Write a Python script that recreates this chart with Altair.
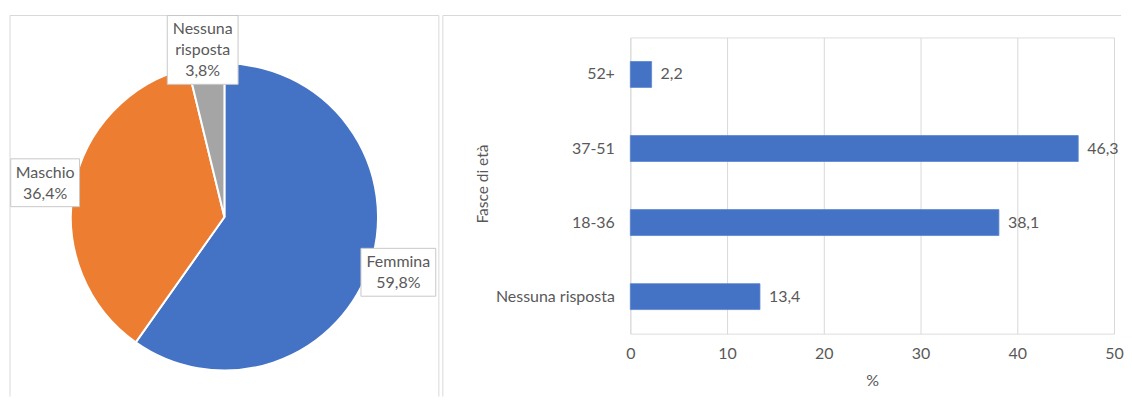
import altair as alt
import pandas as pd

# ---------------- data ----------------
gender = ["Femmina", "Maschio", "Nessuna risposta"]
gender_label_lines = ["Femmina", "Maschio", "Nessuna\nrisposta"]
gender_pct = [59.8, 36.4, 3.8]
gender_colors = ["#4472C4", "#ED7D31", "#A5A5A5"]

age_groups = ["52+", "37-51", "18-36", "Nessuna risposta"]
age_pct = [2.2, 46.3, 38.1, 13.4]
x_ticks = [0, 10, 20, 30, 40, 50]

# ---------------- layout / style ----------------
W, H = 485, 297              # bar plot area (abs x 631..1116, y 36..333)
PCX, PCY = -407, 180         # pie centre relative to bar plot origin
PIE_R = 154
LABEL_R = 183
PANEL_TOP = -22
BOTTOM = 360
BOX_SIZE = {"Femmina": (75, 48), "Maschio": (69, 48), "Nessuna risposta": (71, 69)}
TXT = "#595959"
GRID = "#d9d9d9"
FONT = "Lato"
FS = 16


def fmt(v):
    return f"{v:.1f}".replace(".", ",")


pie_df = pd.DataFrame({
    "cat": gender,
    "pct": gender_pct,
    "idx": list(range(len(gender))),
    "txt": [f"{l}\n{fmt(v)}%" for l, v in zip(gender_label_lines, gender_pct)],
    "bw": [BOX_SIZE[g][0] for g in gender],
    "bh": [BOX_SIZE[g][1] for g in gender],
})

bar_df = pd.DataFrame({"group": age_groups, "pct": age_pct})
one = pd.DataFrame({"a": [0]})

# ---------------- panel borders ----------------
def rule(x1, y1, x2, y2):
    return alt.Chart(one).mark_rule(color=GRID, strokeWidth=1).encode(
        x=alt.value(x1), y=alt.value(y1), x2=alt.value(x2), y2=alt.value(y2)
    )

borders = [
    rule(-622, PANEL_TOP, -622, BOTTOM),
    rule(-622, PANEL_TOP, -192, PANEL_TOP),
    rule(-192, PANEL_TOP, -192, BOTTOM),
    rule(-188, PANEL_TOP, -188, BOTTOM),
    rule(-188, PANEL_TOP, 492, PANEL_TOP),
]

# ---------------- pie ----------------
pie = alt.Chart(pie_df).mark_arc(outerRadius=PIE_R, stroke="white", strokeWidth=2).encode(
    theta=alt.Theta("pct:Q", stack=True),
    color=alt.Color("cat:N", scale=alt.Scale(domain=gender, range=gender_colors), legend=None),
    order=alt.Order("idx:Q"),
    x=alt.value(PCX),
    y=alt.value(PCY),
)

lab = alt.Chart(pie_df).transform_joinaggregate(
    total="sum(pct)"
).transform_window(
    cum="sum(pct)", sort=[alt.SortField("idx")], frame=[None, 0]
).transform_calculate(
    ang="2*PI*(datum.cum - datum.pct/2)/datum.total"
).transform_calculate(
    cx=f"{PCX} + {LABEL_R}*sin(datum.ang)",
    cy0=f"{PCY} - {LABEL_R}*cos(datum.ang)",
).transform_calculate(
    cy=f"max(datum.cy0, {PANEL_TOP} + datum.bh/2)"
).transform_calculate(
    bx="datum.cx - datum.bw/2",
    bx2="datum.cx + datum.bw/2",
    by="datum.cy - datum.bh/2",
    by2="datum.cy + datum.bh/2",
    ty="datum.cy - datum.bh/2 + 6",
)

boxes = lab.mark_rect(fill="white", stroke="#c8c8c8", strokeWidth=1).encode(
    x=alt.X("bx:Q", scale=None), x2="bx2:Q",
    y=alt.Y("by:Q", scale=None), y2="by2:Q",
)
pie_text = lab.mark_text(
    fontSize=FS, lineHeight=21, lineBreak="\n", color=TXT,
    align="center", baseline="top", font=FONT,
).encode(
    x=alt.X("cx:Q", scale=None),
    y=alt.Y("ty:Q", scale=None),
    text="txt:N",
)

# ---------------- bar chart ----------------
xenc = alt.X(
    "pct:Q",
    scale=alt.Scale(domain=[0, 50], nice=False),
    axis=alt.Axis(
        values=x_ticks, grid=True, gridColor=GRID, domain=False, ticks=False,
        labelFlush=False,
        labelPadding=12, labelFontSize=FS, labelColor=TXT, labelFont=FONT,
        title="%", titlePadding=11, titleFontSize=FS, titleColor=TXT,
        titleFontWeight="normal", titleFont=FONT,
    ),
)
yenc = alt.Y(
    "group:N",
    sort=age_groups,
    scale=alt.Scale(paddingInner=0, paddingOuter=0),
    axis=alt.Axis(
        grid=False, domain=False, ticks=False, labelPadding=16,
        labelFontSize=FS, labelColor=TXT, labelFont=FONT,
        title="Fasce di età", titleX=-148, titleY=H / 2 - 2, titleAngle=270,
        titleAlign="center", titleBaseline="middle", titleFontSize=15.5,
        titleColor=TXT, titleFontWeight="normal", titleFont=FONT,
    ),
)

bars = alt.Chart(bar_df).mark_bar(size=26, color="#4472C4", stroke="#5b85d0", strokeWidth=0.8).encode(
    x=xenc, y=yenc
)
bar_text = alt.Chart(bar_df).transform_calculate(
    lbl="replace(format(datum.pct, '.1f'), '.', ',')"
).mark_text(
    align="left", baseline="middle", dx=9, fontSize=FS, color=TXT, font=FONT
).encode(
    x="pct:Q", y=alt.Y("group:N", sort=age_groups), text="lbl:N"
)

chart = alt.layer(
    *borders, pie, boxes, pie_text, bars, bar_text
).properties(
    width=W, height=H,
    padding={"left": 1, "top": 6, "right": 0, "bottom": 0},
    background="white",
).configure_view(stroke=None).configure(font=FONT)

chart.save("out.html", embed_options={"renderer": "svg", "actions": False})
